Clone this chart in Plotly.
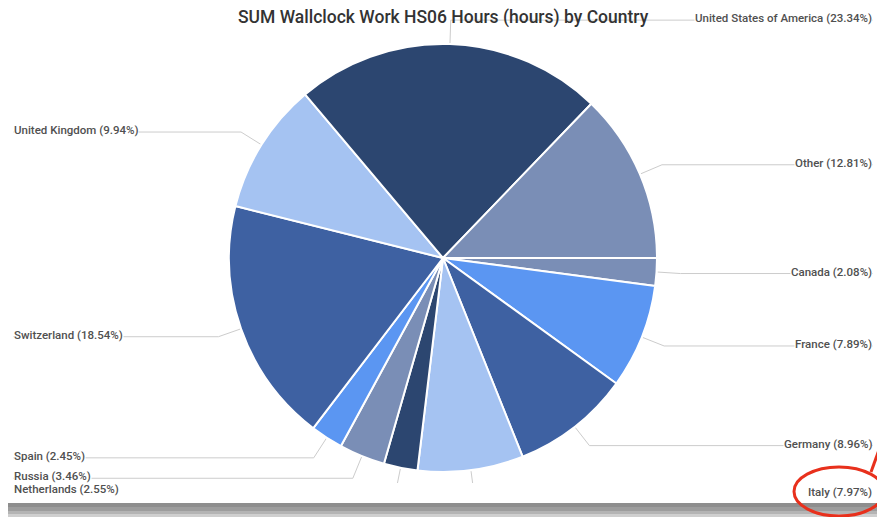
import math
import plotly.graph_objects as go

# Share of summed wallclock work (HS06 hours) per country, in percent
countries = ["Canada", "France", "Germany", "Italy", "Netherlands", "Russia",
             "Spain", "Switzerland", "United Kingdom", "United States of America", "Other"]
shares = [2.08, 7.89, 8.96, 7.97, 2.55, 3.46, 2.45, 18.54, 9.94, 23.34, 12.81]
palette = ["#7a8eb6", "#5b96f2", "#3e61a2", "#a5c3f2", "#2c4670"]
title_text = "SUM Wallclock Work HS06 Hours (hours) by Country"

W, H = 877, 517
PLOT_H = 483              # drawing area height; connectors are clipped below it
CX, CY, R = 443, 258, 214  # pie centre and radius in pixels
START = 90                 # first slice starts at 3 o'clock, going clockwise
LABEL_FONT = "Roboto, sans-serif"

colors = [palette[i % len(palette)] for i in range(len(shares))]


def px_x(x):
    return x / W


def px_y(y):
    return 1 - y / PLOT_H


fig = go.Figure()

fig.add_trace(go.Pie(
    labels=countries,
    values=shares,
    sort=False,
    direction="clockwise",
    rotation=START,
    marker=dict(colors=colors, line=dict(color="white", width=2)),
    textinfo="none",
    hoverinfo="label+percent",
    showlegend=False,
    domain=dict(x=[px_x(CX - R), px_x(CX + R)], y=[px_y(CY + R), px_y(CY - R)]),
))

# connector lines and labels, placed from each slice's mid angle
total = sum(shares)
angle = START
annotations = []
for name, val in zip(countries, shares):
    span = 360 * val / total
    mid = math.radians(angle + span / 2)
    angle += span
    s, c = math.sin(mid), -math.cos(mid)
    x0, y0 = CX + (R + 1) * s, CY + (R + 1) * c
    xb, yb = CX + (R + 24) * s, CY + (R + 24) * c
    right = s >= 0
    xe = 873 if right else 13
    fig.add_trace(go.Scatter(
        x=[x0, xb, xe], y=[y0, yb, yb], mode="lines",
        line=dict(color="#cccccc", width=1), hoverinfo="skip", showlegend=False,
        xaxis="x", yaxis="y",
    ))
    annotations.append(dict(
        text=f"{name} ({val:.2f}%)",
        x=px_x(xe), y=px_y(yb - 2), xref="paper", yref="paper",
        xanchor="right" if right else "left", yanchor="middle",
        showarrow=False, bgcolor="white", borderpad=0,
        font=dict(family=LABEL_FONT, size=11.5, color="#505050", weight=500),
    ))

annotations.append(dict(
    text=title_text, x=px_x(CX), y=px_y(18), xref="paper", yref="paper",
    xanchor="center", yanchor="middle", showarrow=False,
    font=dict(family=LABEL_FONT, size=17.5, color="#333333", weight=500),
))

shapes = []
# card shadow along the bottom edge
for y0, y1, col in [(503, 507, "#8e8e8e"), (507, 511, "#9d9d9d"),
                    (511, 514, "#b4b4b4"), (514, 517, "#cfcfcf")]:
    shapes.append(dict(type="rect", xref="paper", yref="paper",
                       x0=px_x(8), x1=px_x(W), y0=px_y(y1), y1=px_y(y0),
                       fillcolor=col, line=dict(width=0), layer="above"))
# red highlight drawn around the Italy label
shapes.append(dict(type="circle", xref="paper", yref="paper",
                   x0=px_x(794), x1=px_x(884), y0=px_y(516), y1=px_y(467),
                   line=dict(color="#e8301c", width=3), layer="above"))
shapes.append(dict(type="line", xref="paper", yref="paper",
                   x0=px_x(871), x1=px_x(879), y0=px_y(472), y1=px_y(450),
                   line=dict(color="#e8301c", width=3), layer="above"))

fig.update_layout(
    width=W, height=H,
    margin=dict(l=0, r=0, t=0, b=H - PLOT_H),
    paper_bgcolor="white", plot_bgcolor="rgba(0,0,0,0)",
    xaxis=dict(range=[0, W], visible=False, fixedrange=True),
    yaxis=dict(range=[PLOT_H, 0], visible=False, fixedrange=True),
    annotations=annotations,
    shapes=shapes,
)

fig.write_html("out.html")
